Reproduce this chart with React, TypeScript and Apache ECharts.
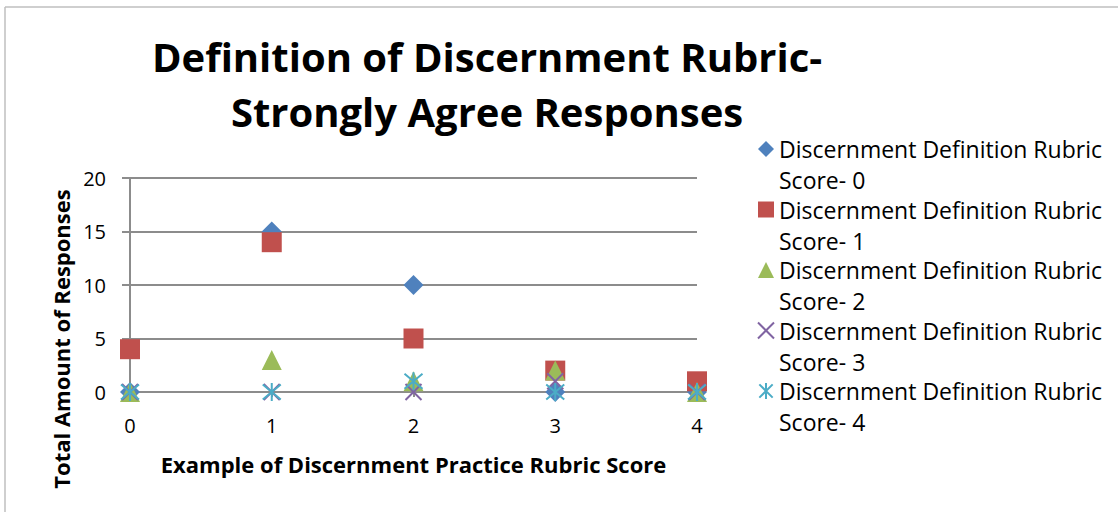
import React, { useEffect, useRef } from "react";
import * as echarts from "echarts";

const titleLines = ["Definition of Discernment Rubric-", "Strongly Agree Responses"];
const xAxisName = "Example of Discernment Practice Rubric Score";
const yAxisName = "Total Amount of Responses";
const practiceScores = [0, 1, 2, 3, 4];
const seriesNames = [
  "Discernment Definition Rubric Score- 0",
  "Discernment Definition Rubric Score- 1",
  "Discernment Definition Rubric Score- 2",
  "Discernment Definition Rubric Score- 3",
  "Discernment Definition Rubric Score- 4",
];
const score0 = [0, 15, 10, 0, 0];
const score1 = [4, 14, 5, 2, 1];
const score2 = [0, 3, 1, 2, 0];
const score3 = [0, 0, 0, 1, 0];
const score4 = [0, 0, 1, 0, 0];
const seriesValues = [score0, score1, score2, score3, score4];
const colors = ["#4F81BD", "#C0504D", "#9BBB59", "#8064A2", "#4BACC6"];

const FONT = "Open Sans";

export default function App() {
  const ref = useRef<HTMLDivElement>(null);
  useEffect(() => {
    document.body.style.margin = "0";
    const chart = echarts.init(ref.current!, null, { renderer: "svg" });
    const symbols = [
      "diamond",
      "rect",
      "triangle",
      "path://M0,0L10,10M10,0L0,10",
      "path://M0,0L10,10M10,0L0,10M5,-1L5,11",
    ];
    const sizes = [20, 20, 20, 16, 18];
    const stroked = [false, false, false, true, true];
    const series = seriesValues.map((vals, i) => ({
      type: "scatter",
      name: seriesNames[i],
      symbol: symbols[i],
      symbolSize: sizes[i],
      data: vals.map((v, j) => [practiceScores[j], v]),
      itemStyle: stroked[i]
        ? { color: "rgba(0,0,0,0)", borderColor: colors[i], borderWidth: 2, opacity: 1 }
        : { color: colors[i], opacity: 1 },
      emphasis: { disabled: true },
    }));
    chart.setOption({
      animation: false,
      backgroundColor: "#ffffff",
      title: {
        text: titleLines.join("\n"),
        left: 487,
        top: 29,
        padding: 0,
        textAlign: "center",
        textStyle: {
          fontFamily: FONT,
          fontWeight: "bold",
          fontSize: 40,
          lineHeight: 55,
          color: "#000",
        },
      },
      legend: {
        orient: "vertical",
        left: 757,
        top: 102.5,
        padding: 0,
        itemGap: -32.5,
        itemWidth: 16,
        itemHeight: 16,
        selectedMode: false,
        formatter: (name: string) => "\n" + name.replace(" Score-", "\nScore-"),
        textStyle: {
          fontFamily: FONT,
          fontSize: 23,
          lineHeight: 31,
          color: "#000",
        },
      },
      grid: {
        left: 130,
        right: 421,
        top: 178,
        bottom: 120,
        containLabel: false,
        outerBoundsMode: "none",
      },
      xAxis: {
        type: "value",
        min: 0,
        max: 4,
        interval: 1,
        name: xAxisName,
        nameLocation: "middle",
        nameGap: 61,
        nameTextStyle: { fontFamily: FONT, fontWeight: "bold", fontSize: 22, color: "#000" },
        axisLine: { show: true, onZero: true, lineStyle: { color: "#8c8c8c", width: 2 } },
        axisTick: { show: true, length: 5, lineStyle: { color: "#8c8c8c", width: 2 } },
        axisLabel: { margin: 23, fontFamily: FONT, fontSize: 20, color: "#000" },
        splitLine: { show: false },
      },
      yAxis: {
        type: "value",
        min: 0,
        max: 20,
        interval: 5,
        name: yAxisName,
        nameLocation: "middle",
        nameGap: 56,
        nameTextStyle: {
          fontFamily: FONT,
          fontWeight: "bold",
          fontSize: 22,
          color: "#000",
          padding: [0, 108, 0, 0],
        },
        axisLine: { show: true, lineStyle: { color: "#8c8c8c", width: 2 } },
        axisTick: { show: true, length: 8, lineStyle: { color: "#8c8c8c", width: 2 } },
        axisLabel: { margin: 24, fontFamily: FONT, fontSize: 20, color: "#000" },
        splitLine: { show: true, lineStyle: { color: "#8c8c8c", width: 2 } },
      },
      graphic: [
        { type: "line", shape: { x1: 5, y1: 7, x2: 1118, y2: 7 }, style: { stroke: "#bfbfbf", lineWidth: 1.5 } },
        { type: "line", shape: { x1: 5, y1: 7, x2: 5, y2: 512 }, style: { stroke: "#bfbfbf", lineWidth: 1.5 } },
      ],
      series,
    });
    return () => chart.dispose();
  }, []);
  return <div ref={ref} style={{ width: 1118, height: 512 }} />;
}
